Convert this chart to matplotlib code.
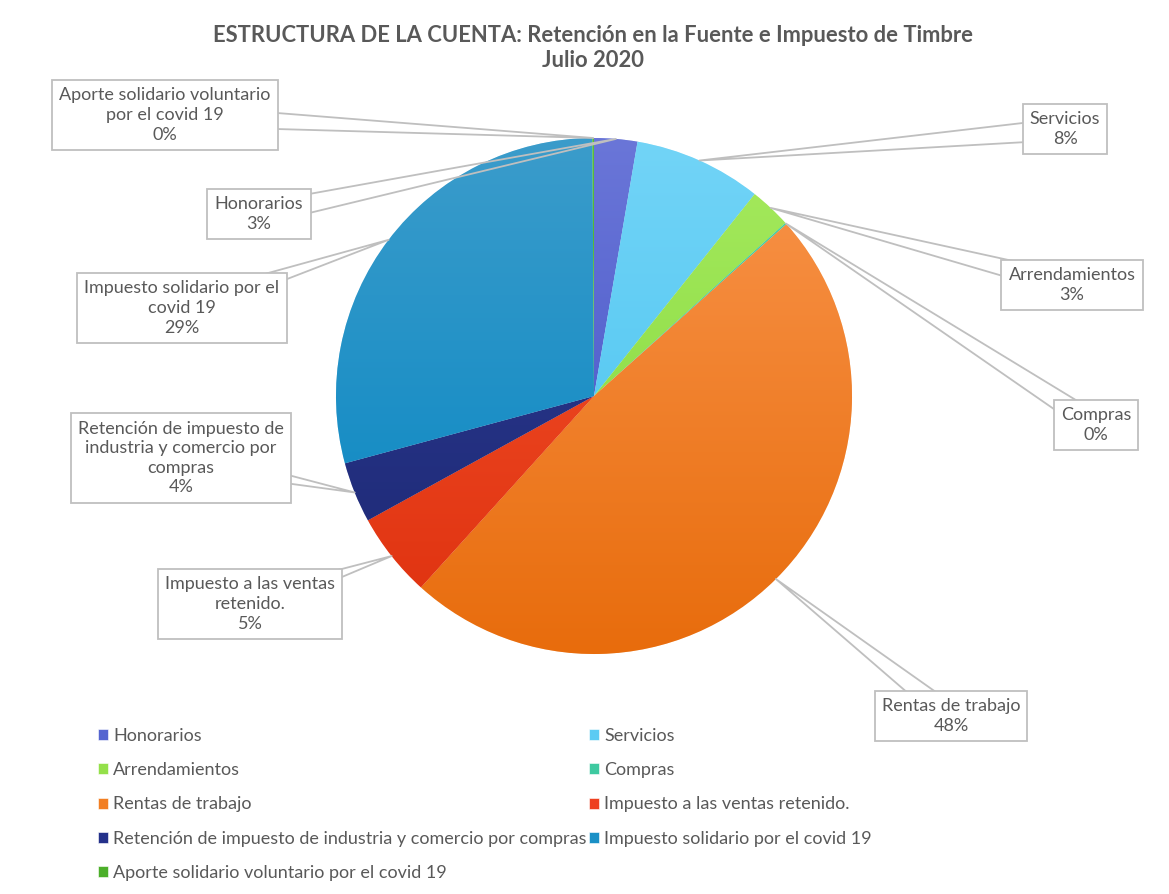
import numpy as np
import matplotlib.pyplot as plt
from matplotlib.colors import to_rgb

plt.rcParams['font.family'] = ['Lato', 'DejaVu Sans']

titulo = 'ESTRUCTURA DE LA CUENTA: Retención en la Fuente e Impuesto de Timbre\nJulio 2020'

categorias = ['Honorarios', 'Servicios', 'Arrendamientos', 'Compras',
              'Rentas de trabajo', 'Impuesto a las ventas retenido.',
              'Retención de impuesto de industria y comercio por compras',
              'Impuesto solidario por el covid 19',
              'Aporte solidario voluntario por el covid 19']
valores = [2.7, 8.0, 2.6, 0.1, 48.3, 5.3, 3.8, 29.1, 0.1]

# texto de las etiquetas (con saltos como en el grafico original)
etiquetas = ['Honorarios', 'Servicios', 'Arrendamientos', 'Compras',
             'Rentas de trabajo', 'Impuesto a las ventas\nretenido.',
             'Retención de impuesto de\nindustria y comercio por\ncompras',
             'Impuesto solidario por el\ncovid 19',
             'Aporte solidario voluntario\npor el covid 19']

colores = ['#5565d0', '#5ccbf3', '#94e04a', '#3ec9a0', '#f27e22',
           '#ee4020', '#24318a', '#1a90c6', '#4caf2a']
# gradiente arriba/abajo (estilo excel)
col_arriba = ['#6a76d8', '#72d4f7', '#a6ea5e', '#4fd0aa', '#f9954c',
              '#f5552e', '#2e3d96', '#3b9ccb', '#5cbf38']
col_abajo = ['#3f4fc4', '#44c1ee', '#80d63a', '#30bf95', '#e86c0c',
             '#de300e', '#1c2772', '#0385c2', '#3c9e1e']

# posiciones de los recuadros (pixeles, origen arriba-izq)
cajas = [(259, 214), (1065, 129), (1072, 285), (1096, 425), (951, 716),
         (250, 604), (181, 458), (182, 308), (165, 115)]

W, H = 1169, 894
cx, cy, R = 594, H - 396, 258

fig = plt.figure(figsize=(W / 100, H / 100), dpi=100)
ax = fig.add_axes([0, 0, 1, 1])

wedges, _ = ax.pie(valores, colors=colores, startangle=90, counterclock=False,
                   center=(cx, cy), radius=R, frame=True,
                   wedgeprops=dict(edgecolor='white', linewidth=0.4))
ax.set_aspect('equal')
ax.set_xlim(0, W)
ax.set_ylim(0, H)
ax.axis('off')

# relleno degradado vertical recortado a cada porcion
t = np.linspace(0, 1, 256)[:, None]
for w, c1, c2 in zip(wedges, col_arriba, col_abajo):
    a, b = np.array(to_rgb(c1)), np.array(to_rgb(c2))
    img = (a[None, None, :] * (1 - t[:, :, None]) + b[None, None, :] * t[:, :, None])
    img = np.repeat(img, 2, axis=1)
    im = ax.imshow(img, extent=(cx - R, cx + R, cy - R, cy + R), origin='upper',
                   aspect='auto', zorder=2, interpolation='bilinear')
    im.set_clip_path(w)

total = sum(valores)
for w, lab, v, (bx, by) in zip(wedges, etiquetas, valores, cajas):
    ang = np.deg2rad((w.theta1 + w.theta2) / 2)
    tip = (cx + R * np.cos(ang), cy + R * np.sin(ang))
    ax.annotate(f'{lab}\n{v / total * 100:.0f}%', xy=tip, xytext=(bx, H - by),
                ha='center', va='center', fontsize=13, color='#595959',
                linespacing=1.28, zorder=6, annotation_clip=False,
                bbox=dict(boxstyle='square,pad=0.4', fc='white', ec='#bfbfbf', lw=1.3),
                arrowprops=dict(arrowstyle='wedge,tail_width=1.2,shrink_factor=0.5',
                                fc='none', ec='#bfbfbf', lw=1.3,
                                patchA=None, shrinkA=0, shrinkB=0))

ax.text(593, H - 48, titulo, ha='center', va='center', fontsize=15.8,
        fontweight='bold', color='#595959', linespacing=1.2)

orden = [0, 2, 4, 6, 8, 1, 3, 5, 7]
leg = fig.legend([wedges[i] for i in orden], [categorias[i] for i in orden],
                 loc='upper left', bbox_to_anchor=(98 / W, 1 - 728 / H), ncol=2,
                 frameon=False, fontsize=13, handlelength=0.55, handleheight=0.55,
                 handletextpad=0.3, columnspacing=0.1, labelspacing=1.01,
                 borderpad=0, borderaxespad=0)
for txt in leg.get_texts():
    txt.set_color('#595959')

fig.savefig('out.png', dpi=100)
